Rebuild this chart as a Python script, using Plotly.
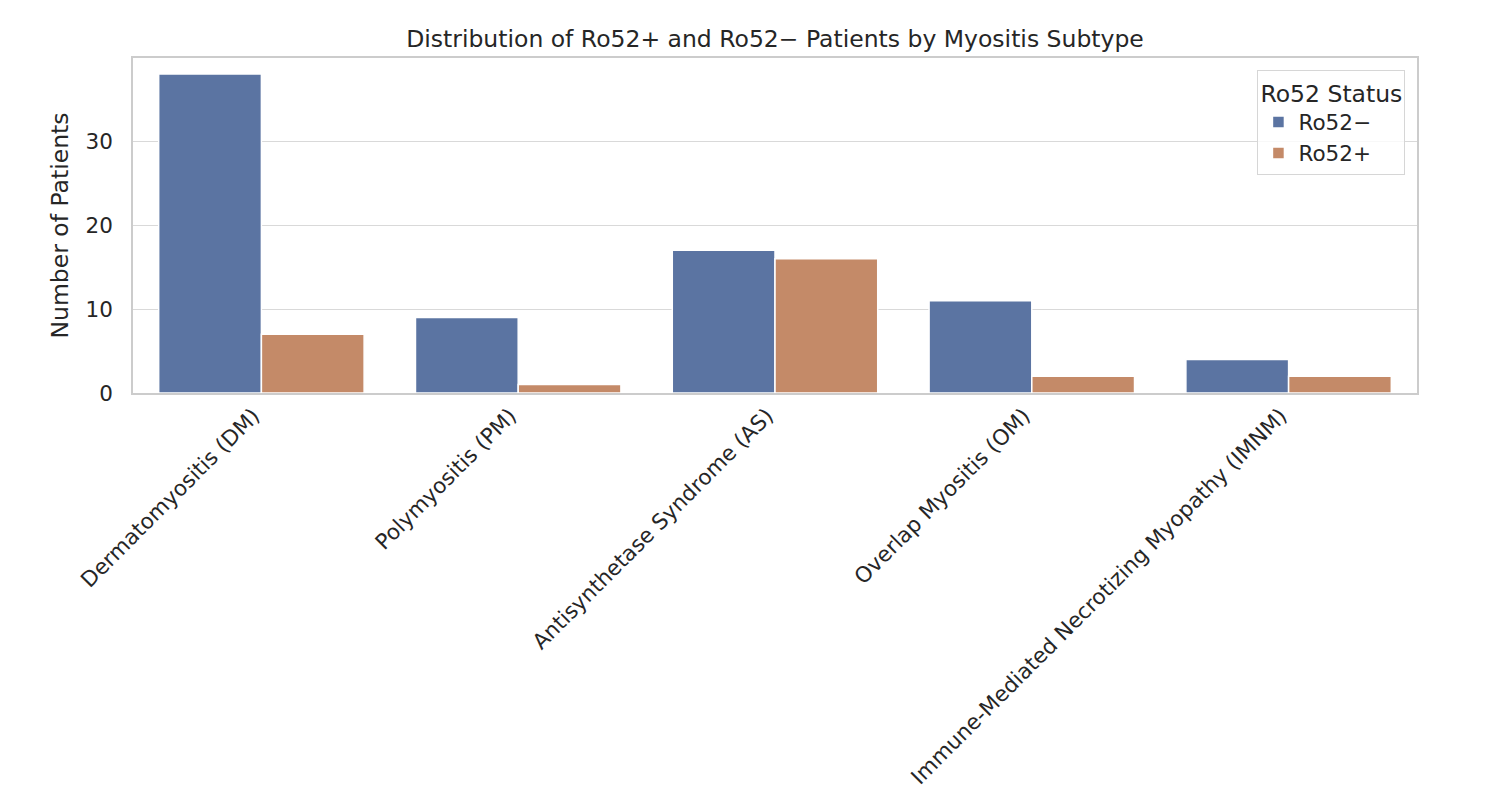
import plotly.graph_objects as go

categories = ["Dermatomyositis (DM)", "Polymyositis (PM)", "Antisynthetase Syndrome (AS)",
              "Overlap Myositis (OM)", "Immune-Mediated Necrotizing Myopathy (IMNM)"]
ro52_neg = [38, 9, 17, 11, 4]
ro52_pos = [7, 1, 16, 2, 2]
y_ticks = [0, 10, 20, 30]

FONT = "DejaVu Sans"
fig = go.Figure()
fig.add_trace(go.Bar(x=categories, y=ro52_neg, name="Ro52\u2212",
                     marker=dict(color="#5B74A2", line=dict(color="white", width=1.5))))
fig.add_trace(go.Bar(x=categories, y=ro52_pos, name="Ro52+",
                     marker=dict(color="#C48A68", line=dict(color="white", width=1.5))))

fig.update_layout(
    width=1504, height=796,
    margin=dict(l=125, r=95, t=50, b=411),
    paper_bgcolor="white", plot_bgcolor="white",
    barmode="group", bargap=0.2, bargroupgap=0,
    font=dict(family=FONT, size=21.5, color="#262626"),
    title=dict(text="Distribution of Ro52+ and Ro52\u2212 Patients by Myositis Subtype",
               x=0.5, xref="paper", xanchor="center", y=1 - 31/796, yanchor="middle",
               font=dict(family=FONT, size=23.5, color="#262626")),
    legend=dict(title=dict(text="Ro52 Status", font=dict(size=23.5)),
                x=0.991, xanchor="right", y=0.964, yanchor="top",
                bordercolor="#d6d6d6", borderwidth=1, bgcolor="rgba(255,255,255,0.8)",
                font=dict(size=21.5)),
    showlegend=True,
)
fig.update_xaxes(tickangle=-45, showline=True, linecolor="#cccccc", linewidth=1.5, mirror=True,
                 ticks="", showgrid=False, tickfont=dict(size=21.5), ticklabelshift=-8)
fig.update_yaxes(range=[0, 39.9], tickvals=y_ticks, showline=True, linecolor="#cccccc",
                 linewidth=1.5, mirror=True, showgrid=True, gridcolor="#d9d9d9", gridwidth=1.2,
                 zeroline=False, ticks="", tickfont=dict(size=21.5), ticklabelstandoff=14,
                 title=dict(text="Number of Patients", font=dict(size=23.5), standoff=10))
fig.write_html("out.html")
